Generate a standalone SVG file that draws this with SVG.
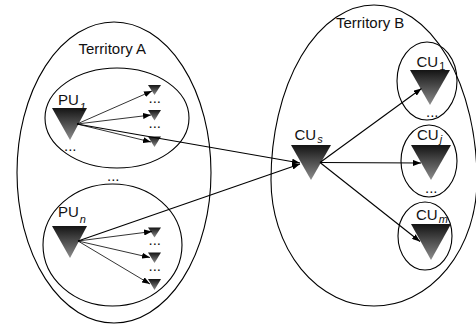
<svg xmlns="http://www.w3.org/2000/svg" width="476" height="326" viewBox="0 0 476 326">
<defs>
<linearGradient id="tri" x1="0" y1="0" x2="0" y2="1">
<stop offset="0" stop-color="#141414"/>
<stop offset="1" stop-color="#8c8c8c"/>
</linearGradient>
<marker id="ah" markerUnits="userSpaceOnUse" markerWidth="8" markerHeight="6" refX="8" refY="3" orient="auto">
<path d="M0,0 L8,3 L0,6 Z" fill="#000"/>
</marker>
<style>
.ring{fill:none;stroke:#000;stroke-width:1.1}
.t{fill:url(#tri)}
.lbl{font-family:"Liberation Sans",Arial,sans-serif;font-size:15px;fill:#111}
.sub{font-family:"Liberation Sans",Arial,sans-serif;font-size:11px;fill:#111;font-style:italic}
.subn{font-family:"Liberation Sans",Arial,sans-serif;font-size:11px;fill:#111;font-style:normal}
.dots{font-family:"Liberation Sans",Arial,sans-serif;font-size:15px;fill:#111}
.c{fill:none;stroke:#000;stroke-width:1.1;marker-end:url(#ah)}
.cs{fill:none;stroke:#000;stroke-width:0.8;marker-end:url(#ah)}
</style>
</defs>
<rect width="476" height="326" fill="#fff"/>

<g id="territory-a">
<ellipse class="ring" cx="114" cy="172.5" rx="97" ry="150.5"/>
<text class="lbl" x="78.5" y="54" font-size="15.5">Territory A</text>
<text class="dots" x="107" y="181">...</text>
</g>

<g id="territory-b">
<path class="ring" d="M271 180 A103 175 0 0 1 477 180 A103 126 0 0 1 271 180 Z"/>
<text class="lbl" x="336" y="28" font-size="15.5">Territory B</text>
</g>

<g id="pu1-group">
<ellipse class="ring" cx="117" cy="118" rx="72" ry="50"/>
<g id="pu1">
<polygon class="t" points="52,108 87,108 70,140"/>
<text class="lbl" x="58" y="105">PU<tspan class="sub" dx="1" dy="6">1</tspan></text>
<text class="dots" x="64" y="151">...</text>
</g>
<g id="pu1-targets">
<polygon class="t" points="148,85 161,85 154.5,95"/>
<text class="dots" x="148.5" y="103">...</text>
<polygon class="t" points="148,110 161,110 154.5,120.5"/>
<text class="dots" x="148.5" y="128">...</text>
<polygon class="t" points="148,136.5 161,136.5 154.5,147"/>
</g>
</g>

<g id="pun-group">
<ellipse class="ring" cx="112.5" cy="245" rx="69.5" ry="61"/>
<g id="pun">
<polygon class="t" points="52,226 87,226 70,258"/>
<text class="lbl" x="58" y="217">PU<tspan class="sub" dx="1" dy="6">n</tspan></text>
</g>
<g id="pun-targets">
<polygon class="t" points="148,227.5 161,227.5 154.5,237.5"/>
<text class="dots" x="148.5" y="245">...</text>
<polygon class="t" points="148,252.5 161,252.5 154.5,263"/>
<text class="dots" x="148.5" y="271">...</text>
<polygon class="t" points="148,279 161,279 154.5,290"/>
</g>
</g>

<g id="cus">
<polygon class="t" points="291,145 331,145 311,180"/>
<text class="lbl" x="294.5" y="140">CU<tspan class="sub" dx="1" dy="3">s</tspan></text>
</g>

<g id="cu1">
<ellipse class="ring" cx="427" cy="81" rx="30" ry="39"/>
<polygon class="t" points="410,70 450,70 430,105"/>
<text class="lbl" x="416.5" y="67">CU<tspan class="subn" dx="1" dy="3">1</tspan></text>
<text class="dots" x="426" y="117">...</text>
</g>

<g id="cuj">
<ellipse class="ring" cx="429" cy="161" rx="28" ry="36"/>
<polygon class="t" points="411,145 451,145 431,180"/>
<text class="lbl" x="417" y="139.5">CU<tspan class="sub" dx="1" dy="3">j</tspan></text>
<text class="dots" x="425" y="193">...</text>
</g>

<g id="cum">
<ellipse class="ring" cx="425" cy="236" rx="27" ry="34"/>
<polygon class="t" points="411,224 451,224 431,260"/>
<text class="lbl" x="416" y="220">CU<tspan class="sub" dx="1" dy="3">m</tspan></text>
</g>

<g id="connectors">
<line class="cs" x1="77" y1="124" x2="152" y2="91"/>
<line class="cs" x1="77" y1="124" x2="151" y2="115"/>
<line class="cs" x1="77" y1="124" x2="151" y2="142"/>
<line class="c" x1="77" y1="124" x2="300" y2="163"/>
<line class="cs" x1="78" y1="241" x2="152" y2="231.5"/>
<line class="cs" x1="78" y1="241" x2="150" y2="257.5"/>
<line class="cs" x1="78" y1="241" x2="150" y2="284"/>
<line class="c" x1="78" y1="241" x2="300" y2="164"/>
<line class="c" x1="320" y1="162.5" x2="421.5" y2="88.5"/>
<line class="c" x1="320" y1="162.5" x2="421" y2="163"/>
<line class="c" x1="320" y1="162.5" x2="420" y2="241.5"/>
</g>
</svg>
